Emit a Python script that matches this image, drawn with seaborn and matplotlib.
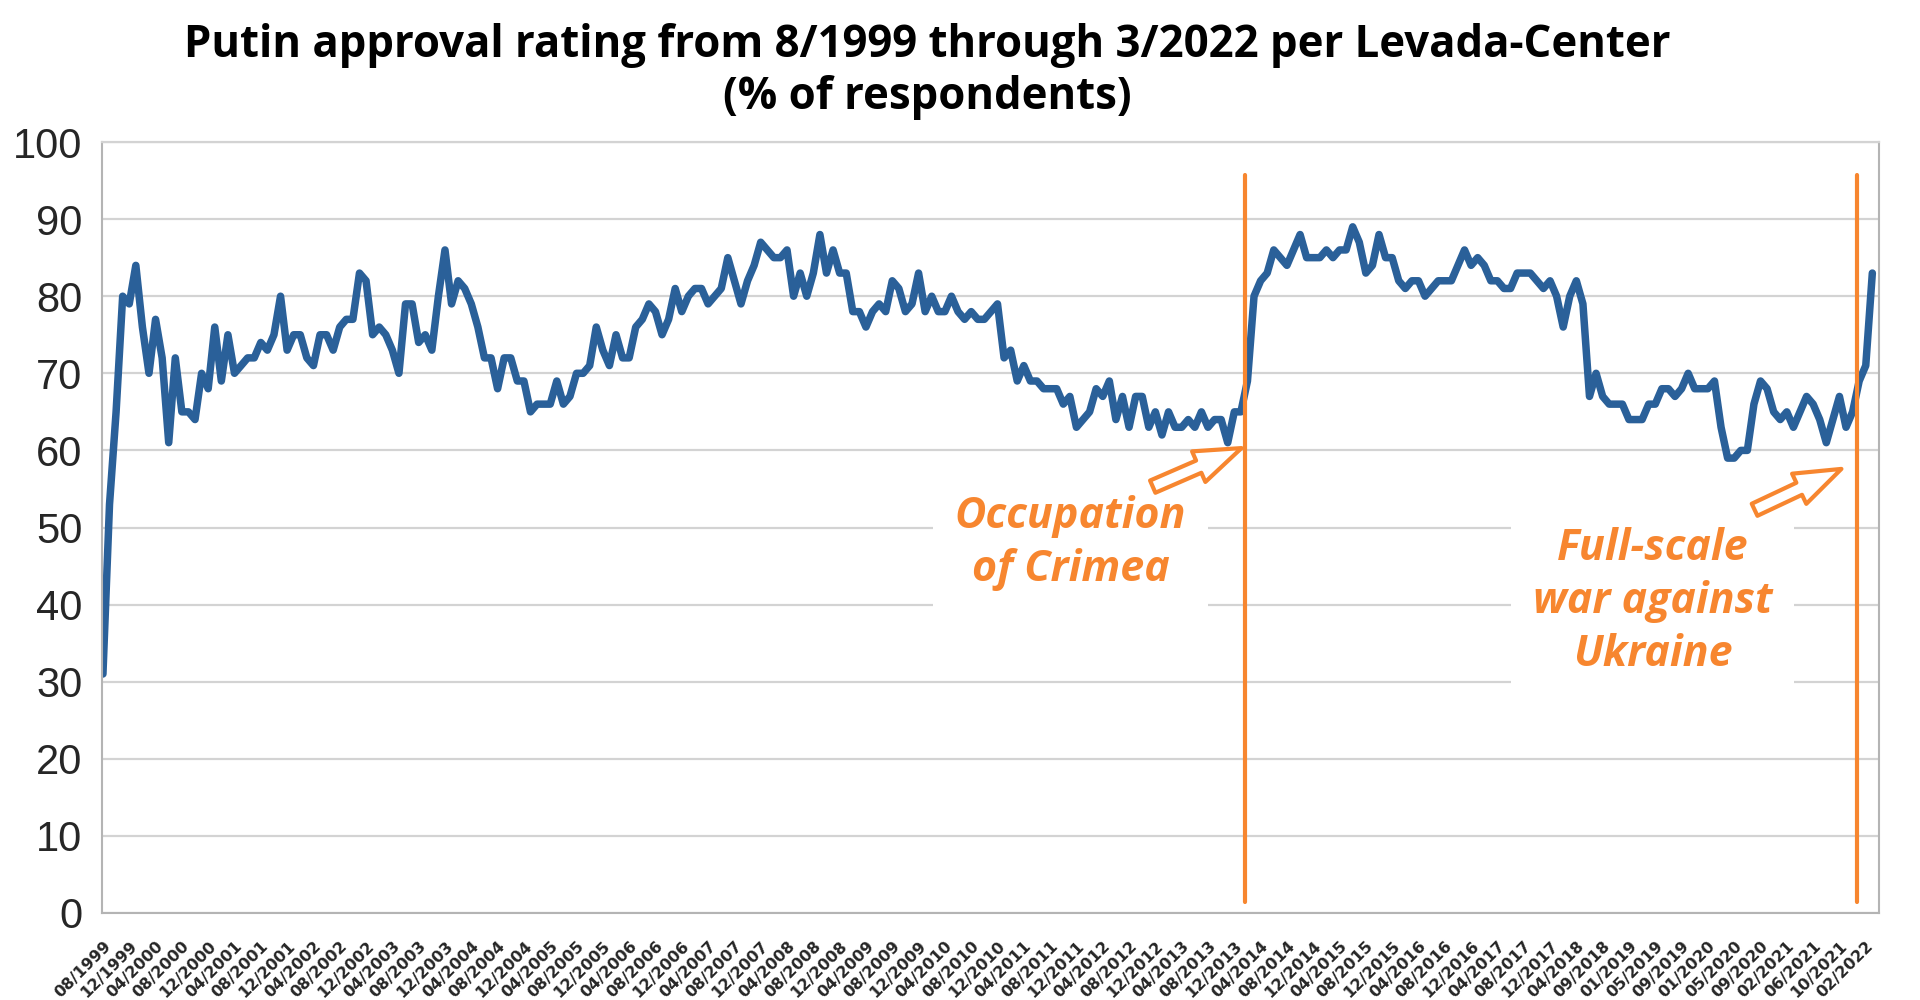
import numpy as np
import pandas as pd
import matplotlib
matplotlib.use("Agg")
import matplotlib.pyplot as plt
import seaborn as sns

# Levada-Center monthly approval, 08/1999 .. 03/2022
approval = [
    31, 53, 65, 80, 79, 84, 76, 70, 77, 72,
    61, 72, 65, 65, 64, 70, 68, 76, 69, 75,
    70, 71, 72, 72, 74, 73, 75, 80, 73, 75,
    75, 72, 71, 75, 75, 73, 76, 77, 77, 83,
    82, 75, 76, 75, 73, 70, 79, 79, 74, 75,
    73, 80, 86, 79, 82, 81, 79, 76, 72, 72,
    68, 72, 72, 69, 69, 65, 66, 66, 66, 69,
    66, 67, 70, 70, 71, 76, 73, 71, 75, 72,
    72, 76, 77, 79, 78, 75, 77, 81, 78, 80,
    81, 81, 79, 80, 81, 85, 82, 79, 82, 84,
    87, 86, 85, 85, 86, 80, 83, 80, 83, 88,
    83, 86, 83, 83, 78, 78, 76, 78, 79, 78,
    82, 81, 78, 79, 83, 78, 80, 78, 78, 80,
    78, 77, 78, 77, 77, 78, 79, 72, 73, 69,
    71, 69, 69, 68, 68, 68, 66, 67, 63, 64,
    65, 68, 67, 69, 64, 67, 63, 67, 67, 63,
    65, 62, 65, 63, 63, 64, 63, 65, 63, 64,
    64, 61, 65, 65, 69, 80, 82, 83, 86, 85,
    84, 86, 88, 85, 85, 85, 86, 85, 86, 86,
    89, 87, 83, 84, 88, 85, 85, 82, 81, 82,
    82, 80, 81, 82, 82, 82, 84, 86, 84, 85,
    84, 82, 82, 81, 81, 83, 83, 83, 82, 81,
    82, 80, 76, 80, 82, 79, 67, 70, 67, 66,
    66, 66, 64, 64, 64, 66, 66, 68, 68, 67,
    68, 70, 68, 68, 68, 69, 63, 59, 59, 60,
    60, 66, 69, 68, 65, 64, 65, 63, 65, 67,
    66, 64, 61, 64, 67, 63, 65, 69, 71, 83,
]

# every 4th survey gets a label
tick_labels = [
    "08/1999", "12/1999",
    "04/2000", "08/2000", "12/2000", "04/2001", "08/2001", "12/2001",
    "04/2002", "08/2002", "12/2002", "04/2003", "08/2003", "12/2003",
    "04/2004", "08/2004", "12/2004", "04/2005", "08/2005", "12/2005",
    "04/2006", "08/2006", "12/2006", "04/2007", "08/2007", "12/2007",
    "04/2008", "08/2008", "12/2008", "04/2009", "08/2009", "12/2009",
    "04/2010", "08/2010", "12/2010", "04/2011", "08/2011", "12/2011",
    "04/2012", "08/2012", "12/2012", "04/2013", "08/2013", "12/2013",
    "04/2014", "08/2014", "12/2014", "04/2015", "08/2015", "12/2015",
    "04/2016", "08/2016", "12/2016", "04/2017", "08/2017", "12/2017",
    "04/2018", "09/2018", "01/2019", "05/2019", "09/2019", "01/2020",
    "05/2020", "09/2020", "02/2021", "06/2021", "10/2021", "02/2022",
]

events = ["Occupation\nof Crimea", "Full-scale\nwar against\nUkraine"]
event_x = [173.7, 266.7]

blue = "#2A6099"
orange = "#F7862F"
grey = "#b4b4b4"

df = pd.DataFrame({"survey": np.arange(len(approval)), "approval": approval})

sns.set_style("white")
plt.rcParams["font.family"] = ["Liberation Sans", "DejaVu Sans"]

fig = plt.figure(figsize=(19.2, 10), dpi=100)
ax = fig.add_axes([0.0531, 0.087, 0.9255, 0.771])

sns.lineplot(data=df, x="survey", y="approval", ax=ax, color=blue, linewidth=5.4)

ax.set_xlim(-0.15, len(approval) - 0.1)
ax.set_ylim(0, 100)
ax.set_yticks(range(0, 101, 10))
ax.set_xlabel("")
ax.set_ylabel("")

# x axis: a tick per survey, label every 4th
ax.set_xticks(np.arange(0, len(approval), 4))
ax.set_xticklabels(tick_labels, rotation=45, ha="right", rotation_mode="anchor",
                   fontsize=11.5, fontweight="bold",
                   family=["Liberation Sans Narrow", "DejaVu Sans"])
ax.set_xticks(np.arange(len(approval) + 1), minor=True)
ax.tick_params(axis="x", which="both", length=11, width=1.3, color=grey,
               direction="out", pad=7)
ax.tick_params(axis="y", length=9, width=1.3, color=grey, labelsize=30, pad=5)

ax.yaxis.grid(True, color="#d3d3d3", linewidth=1.6)
ax.xaxis.grid(False)
for side in ["left", "right", "bottom"]:
    ax.spines[side].set_color(grey)
    ax.spines[side].set_linewidth(1.5)
ax.spines["top"].set_color("#d3d3d3")
ax.spines["top"].set_linewidth(1.6)

# event markers
ax.vlines(event_x, 1.4, 95.7, color=orange, linewidth=3, capstyle="round", zorder=4)

txt = dict(ha="center", va="center", color=orange, fontsize=31, fontweight="bold",
           fontstyle="italic", family=["Open Sans", "DejaVu Sans"], linespacing=1.3,
           bbox=dict(boxstyle="square,pad=0.5", fc="white", ec="none"), zorder=3)
ax.text(147.1, 48.0, events[0], **txt)
ax.text(235.6, 40.4, events[1], **txt)

arrow = dict(arrowstyle="simple,head_length=1.4,head_width=1.0,tail_width=0.4",
             fc="white", ec=orange, lw=3, mutation_scale=24, shrinkA=0, shrinkB=0)
ax.annotate("", xy=(173.1, 60.3), xytext=(159.6, 55.3), arrowprops=arrow, zorder=5)
ax.annotate("", xy=(264.3, 57.6), xytext=(251.1, 52.3), arrowprops=arrow, zorder=5)

title_font = dict(ha="center", va="center", fontsize=31.5, fontweight="bold",
                  color="black", family=["Open Sans", "DejaVu Sans"])
fig.text(0.483, 0.955, "Putin approval rating from 8/1999 through 3/2022 per Levada-Center",
         **title_font)
fig.text(0.483, 0.903, "(% of respondents)", **title_font)

fig.savefig("out.png", dpi=100)
